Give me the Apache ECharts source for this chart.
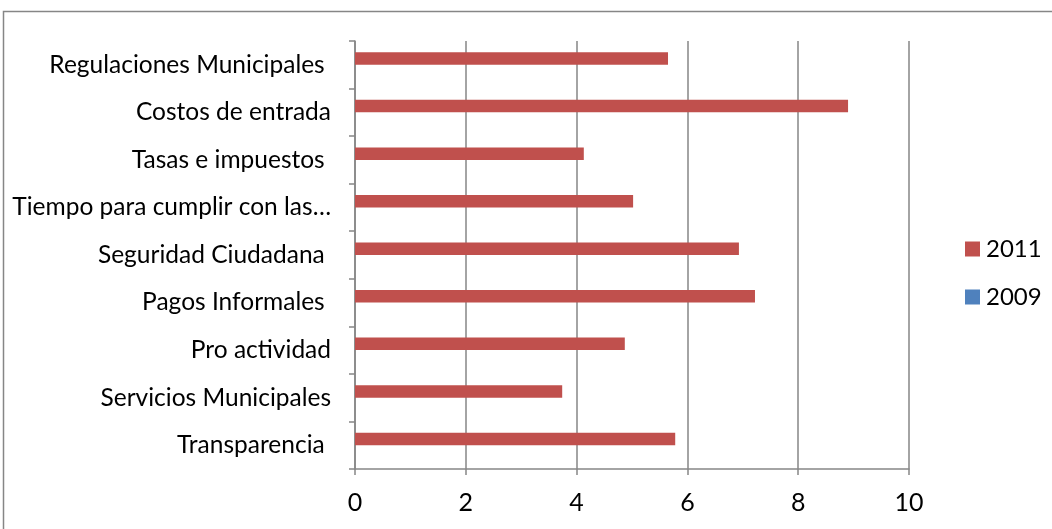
<!DOCTYPE html>
<html><head><meta charset="utf-8">
<script src="https://cdn.jsdelivr.net/npm/echarts@6/dist/echarts.min.js"></script>
<style>html,body{margin:0;padding:0;background:#fff}#c{width:1052px;height:529px}</style>
</head><body><div id="c"></div>
<script>
const categories = ['Transparencia ', 'Servicios Municipales', 'Pro actividad', 'Pagos Informales ', 'Seguridad Ciudadana ', 'Tiempo para cumplir con las…', 'Tasas e impuestos ', 'Costos de entrada', 'Regulaciones Municipales '];
const values2011 = [5.78, 3.74, 4.87, 7.22, 6.93, 5.02, 4.13, 8.9, 5.65];
const values2009 = [];
const xTicks = [0, 2, 4, 6, 8, 10];
const FONT = 'Lato';
const chart = echarts.init(document.getElementById('c'));
chart.setOption({
  animation: false,
  textStyle: {fontFamily: FONT},
  graphic: [{type: 'rect', shape: {x: 3.5, y: 11.5, width: 1100, height: 600}, style: {fill: 'none', stroke: '#868686', lineWidth: 1.5}, silent: true}],
  grid: {left: 355, right: 143, top: 41, bottom: 60},
  legend: {orient: 'vertical', left: 965, top: 237, padding: 0, itemGap: 24, itemWidth: 15, itemHeight: 15,
    data: ['2011', '2009'], textStyle: {fontFamily: FONT, fontSize: 24, color: '#000', padding: [0, 0, 0, 1]}, icon: 'rect'},
  xAxis: {type: 'value', min: 0, max: 10, interval: 2,
    axisLine: {show: true, lineStyle: {color: '#868686', width: 1.5}},
    axisTick: {show: true, length: 6, lineStyle: {color: '#868686', width: 1.5}},
    splitLine: {show: true, lineStyle: {color: '#868686', width: 1.5}},
    axisLabel: {fontFamily: FONT, fontSize: 25, color: '#000', margin: 21,
      formatter: v => xTicks.includes(v) ? String(v) : ''}},
  yAxis: {type: 'category', data: categories,
    axisLine: {show: true, lineStyle: {color: '#868686', width: 1.5}},
    axisTick: {show: true, length: 6, lineStyle: {color: '#868686', width: 1.5}},
    axisLabel: {fontFamily: FONT, fontSize: 24.5, color: '#000', margin: 24}},
  series: [
    {name: '2011', type: 'bar', data: values2011, barWidth: 12.5, barGap: '0%', itemStyle: {color: '#C0504D'}},
    {name: '2009', type: 'bar', data: values2009, barWidth: 12.5, barGap: '0%', itemStyle: {color: '#4F81BD'}}
  ]
});
</script></body></html>
